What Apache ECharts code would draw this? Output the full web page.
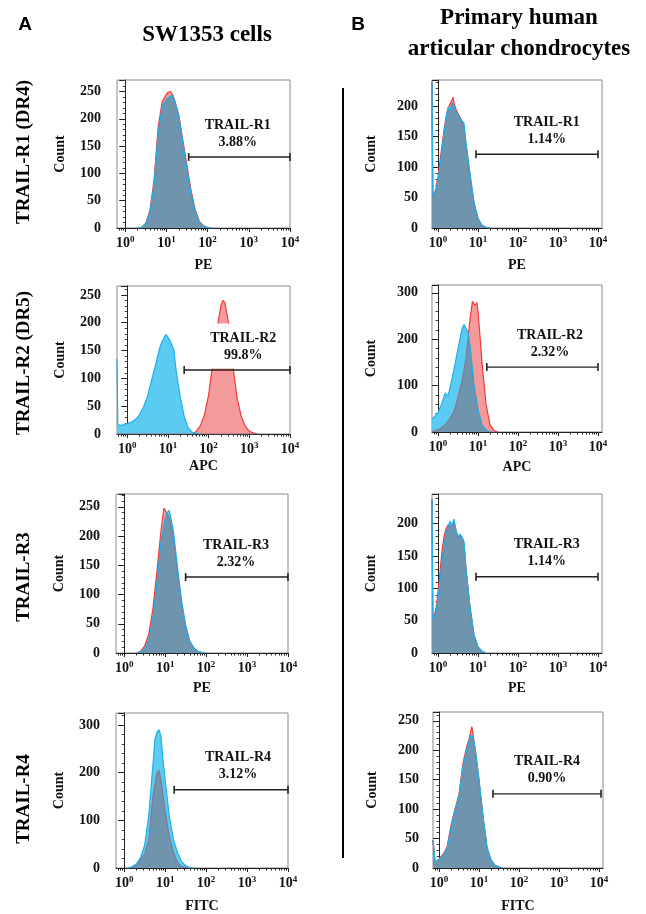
<!DOCTYPE html>
<html><head><meta charset="utf-8">
<script src="https://cdn.jsdelivr.net/npm/echarts@6/dist/echarts.min.js"></script>
<style>html,body{margin:0;padding:0;background:#fff}#c{width:646px;height:914px}</style>
</head><body><div id="c"></div>
<script>
// ---------------- DATA ----------------
// x values are log10(fluorescence intensity); y values are event counts
const receptorNames = ['TRAIL-R1','TRAIL-R2','TRAIL-R3','TRAIL-R4','TRAIL-R1','TRAIL-R2','TRAIL-R3','TRAIL-R4'];
const gatePercents = ['3.88%','99.8%','2.32%','3.12%','1.14%','2.32%','1.14%','0.90%'];
const channelNames = ['PE','APC','PE','FITC','PE','APC','PE','FITC'];
const rowLabels = ['TRAIL-R1 (DR4)','TRAIL-R2 (DR5)','TRAIL-R3','TRAIL-R4'];
const columnTitleA = ['SW1353 cells'];
const columnTitleB = ['Primary human','articular chondrocytes'];
const decadeTicks = [0,1,2,3,4];
const gateStart = [1.54,1.4,1.5,1.22,0.95,1.22,0.95,1.35];
const gateEnd = [4,4,4,4,4,4,4,4.05];
const gateLevel = [130,115,130,164,121,140,118,126];
const gateLabelX = [2.73,2.85,2.73,2.78,2.72,2.8,2.72,2.7];
const yMax = [271,266,272,325,243,317,246,265];
const yStep = [50,50,50,100,50,100,50,50];
const xMin = [-0.2,-0.25,-0.2,-0.2,-0.15,-0.15,-0.15,-0.15];
const xMax = [4,4,4,4,4.1,4.1,4.1,4.1];

const redA1 = [[0.3,0],[0.4,1],[0.5,9],[0.6,32],[0.7,88],[0.8,185],[0.9,232],[1.0,245],[1.05,249],[1.1,250],[1.15,244],[1.2,234],[1.3,207],[1.4,160],[1.5,114],[1.6,68],[1.7,33],[1.8,12],[1.9,4],[2.0,1],[2.1,0]];
const blueA1 = [[0.3,0],[0.4,1],[0.5,8],[0.6,28],[0.7,80],[0.8,175],[0.9,222],[1.0,236],[1.1,241],[1.15,243],[1.2,232],[1.3,205],[1.4,155],[1.5,107],[1.6,62],[1.7,30],[1.8,10],[1.9,3],[2.0,1],[2.1,0]];

const redA2 = [[1.6,0],[1.7,5],[1.8,15],[1.9,35],[2.0,70],[2.1,125],[2.2,185],[2.3,230],[2.35,240],[2.4,236],[2.5,195],[2.6,120],[2.7,65],[2.8,32],[2.9,14],[3.0,5],[3.1,2],[3.2,0]];
const blueA2 = [[-0.25,135],[-0.23,16],[-0.2,15],[-0.1,16],[0,19],[0.1,21],[0.2,26],[0.3,34],[0.4,48],[0.5,68],[0.6,97],[0.7,125],[0.8,155],[0.85,165],[0.9,172],[0.95,179],[1.0,174],[1.05,168],[1.1,160],[1.15,150],[1.2,115],[1.3,68],[1.4,32],[1.5,11],[1.6,3],[1.7,1],[1.8,0]];

const redA3 = [[0.3,0],[0.4,3],[0.5,12],[0.6,32],[0.7,75],[0.8,140],[0.9,210],[0.97,248],[1.0,245],[1.1,232],[1.2,200],[1.3,140],[1.4,85],[1.5,44],[1.6,19],[1.7,8],[1.8,2],[1.9,0]];
const blueA3 = [[0.3,0],[0.4,2],[0.5,7],[0.6,22],[0.7,58],[0.8,118],[0.9,190],[1.0,228],[1.05,240],[1.1,244],[1.2,210],[1.3,148],[1.4,90],[1.5,48],[1.6,21],[1.7,9],[1.8,3],[1.9,1],[2.0,0]];

const redA4 = [[0.2,1],[0.3,5],[0.4,18],[0.5,30],[0.6,60],[0.7,150],[0.8,200],[0.85,205],[0.9,185],[1.0,120],[1.1,67],[1.2,35],[1.3,12],[1.4,4],[1.5,1],[1.6,0]];
const blueA4 = [[0.1,0],[0.2,3],[0.3,9],[0.4,22],[0.5,48],[0.6,110],[0.7,215],[0.75,270],[0.8,285],[0.85,290],[0.9,275],[0.95,225],[1.0,185],[1.1,110],[1.2,60],[1.3,33],[1.4,14],[1.5,5],[1.6,1],[1.7,0]];

const redB1 = [[-0.15,240],[-0.13,50],[-0.1,55],[-0.05,65],[0,85],[0.05,110],[0.1,135],[0.15,160],[0.2,182],[0.25,196],[0.3,195],[0.35,210],[0.38,215],[0.4,205],[0.45,195],[0.5,188],[0.55,182],[0.6,175],[0.65,165],[0.7,135],[0.8,85],[0.9,40],[1.0,14],[1.1,4],[1.2,1],[1.3,0]];
const blueB1 = [[-0.15,240],[-0.13,52],[-0.1,52],[-0.05,60],[0,78],[0.05,100],[0.1,128],[0.15,155],[0.2,178],[0.25,198],[0.3,192],[0.35,205],[0.4,200],[0.45,190],[0.5,185],[0.55,180],[0.6,178],[0.65,172],[0.7,140],[0.8,90],[0.9,42],[1.0,16],[1.1,5],[1.2,1],[1.3,0]];

const redB2 = [[-0.15,1],[0,5],[0.1,10],[0.2,18],[0.3,30],[0.4,45],[0.5,75],[0.6,110],[0.7,160],[0.8,243],[0.86,282],[0.92,273],[0.97,279],[1.0,260],[1.05,207],[1.1,150],[1.2,60],[1.3,16],[1.4,3],[1.5,0]];
const blueB2 = [[-0.15,27],[-0.1,32],[0,42],[0.1,62],[0.18,84],[0.25,78],[0.3,95],[0.4,135],[0.5,180],[0.6,222],[0.65,232],[0.7,230],[0.75,215],[0.8,185],[0.9,100],[1.0,48],[1.1,15],[1.2,4],[1.3,0]];

const redB3 = [[-0.15,238],[-0.13,52],[-0.05,68],[0,95],[0.05,125],[0.1,158],[0.15,180],[0.2,192],[0.25,198],[0.3,200],[0.35,196],[0.4,203],[0.45,188],[0.5,178],[0.55,182],[0.6,178],[0.65,170],[0.7,128],[0.8,70],[0.9,27],[1.0,9],[1.1,2],[1.2,0]];
const blueB3 = [[-0.15,238],[-0.13,52],[-0.05,62],[0,85],[0.05,109],[0.1,140],[0.15,165],[0.2,183],[0.25,195],[0.3,204],[0.35,198],[0.4,207],[0.45,190],[0.5,180],[0.55,184],[0.6,180],[0.65,172],[0.7,130],[0.8,72],[0.9,28],[1.0,10],[1.1,3],[1.2,0]];

const redB4 = [[-0.15,47],[-0.1,10],[-0.05,8],[0,15],[0.1,23],[0.2,35],[0.3,72],[0.4,100],[0.5,125],[0.6,178],[0.7,208],[0.75,218],[0.82,240],[0.85,228],[0.9,203],[1.0,148],[1.1,86],[1.2,34],[1.3,13],[1.4,4],[1.5,1],[1.6,0]];
const blueB4 = [[-0.15,47],[-0.1,10],[-0.05,7],[0,14],[0.1,21],[0.2,32],[0.3,68],[0.4,98],[0.5,122],[0.6,172],[0.7,203],[0.75,215],[0.8,226],[0.85,222],[0.9,205],[1.0,150],[1.1,88],[1.2,36],[1.3,14],[1.4,5],[1.5,2],[1.6,0]];

const redSets = [redA1,redA2,redA3,redA4,redB1,redB2,redB3,redB4];
const blueSets = [blueA1,blueA2,blueA3,blueA4,blueB1,blueB2,blueB3,blueB4];

// ---------------- LAYOUT / STYLE ----------------
const rects = [
  [117,80,173,148],[117,286,173,148],[116,494,172,159],[116,713,172,156],
  [432,80,170,148],[432,285,170,147],[432,494,170,159],[433,712,170,156]
];
const xNameGap = [30,25,28,31,30,28,28,31];
const yNameGap = [50,50,50,50,54,54,54,54];
const yLabelMargin = [16,16,16,16,14,14,14,14];
const serif = '"Liberation Serif","Times New Roman",serif';
const sans = '"Liberation Sans",Arial,sans-serif';
const C = {
  redLine:'#ef3b3b', redFill:'#f59a9a', blueFill:'#5ccbf2', blueLine:'#1fb0ea',
  overlap:'#6f94ad', overlapLine:'#8a6f8c', ink:'#111', frame:'#8c8c8c'
};

function interp(arr, x){
  if (x < arr[0][0] || x > arr[arr.length-1][0]) return 0;
  for (let i=0;i<arr.length-1;i++){
    const a=arr[i], b=arr[i+1];
    if (x>=a[0] && x<=b[0]) { return b[0]===a[0]?a[1]:a[1]+(b[1]-a[1])*(x-a[0])/(b[0]-a[0]); }
  }
  return arr[arr.length-1][1];
}
// region shared by both histograms (drawn darker, like the overlay in the figure)
function overlapOf(a,b){
  let xs = Array.from(new Set(a.map(p=>p[0]).concat(b.map(p=>p[0])))).sort((p,q)=>p-q);
  const out=[];
  for (let i=0;i<xs.length;i++){
    const x=xs[i];
    out.push([x, Math.min(interp(a,x),interp(b,x))]);
    if (i<xs.length-1){
      const x2=xs[i+1];
      const d1=interp(a,x)-interp(b,x), d2=interp(a,x2)-interp(b,x2);
      if (d1*d2<0){
        const t=d1/(d1-d2), xc=x+(x2-x)*t;
        out.push([xc, interp(a,xc)]);
      }
    }
  }
  return out;
}
function minorTicks(lo,hi){
  const r=[];
  for (let d=-1; d<=4; d++) for (let k=2;k<=9;k++){ const v=d+Math.log10(k); if(v>lo&&v<hi) r.push(v); }
  return r;
}

const grids=[], xAxes=[], yAxes=[], series=[];
for (let i=0;i<8;i++){
  const [l,t,w,h]=rects[i];
  grids.push({left:l,top:t,width:w,height:h,show:true,borderColor:C.frame,borderWidth:1,backgroundColor:'transparent'});
  xAxes.push({
    type:'value', gridIndex:i, min:xMin[i], max:xMax[i], position:'bottom',
    name:channelNames[i], nameLocation:'middle', nameGap:xNameGap[i],
    nameTextStyle:{fontFamily:serif,fontWeight:'bold',fontSize:14,color:C.ink},
    axisLine:{show:true,onZero:false,lineStyle:{color:'#222',width:1}},
    axisTick:{show:true,customValues:decadeTicks,length:4,lineStyle:{color:'#222'}},
    splitLine:{show:false},
    axisLabel:{customValues:decadeTicks,margin:7,
      formatter:v=>'{b|10}{s|'+Math.round(v)+'}',
      rich:{b:{fontFamily:serif,fontWeight:'bold',fontSize:14,color:C.ink,lineHeight:16},
            s:{fontFamily:serif,fontWeight:'bold',fontSize:9,color:C.ink,verticalAlign:'top',lineHeight:16}}}
  });
  xAxes.push({
    type:'value', gridIndex:i, min:xMin[i], max:xMax[i], position:'bottom',
    axisLine:{show:false}, axisLabel:{show:false}, splitLine:{show:false},
    axisTick:{show:true,customValues:minorTicks(xMin[i],xMax[i]),length:2.5,lineStyle:{color:'#222'}}
  });
  yAxes.push({
    type:'value', gridIndex:i, min:0, max:yMax[i], interval:yStep[i],
    name:'Count', nameLocation:'middle', nameGap:yNameGap[i],
    nameTextStyle:{fontFamily:serif,fontWeight:'bold',fontSize:14,color:C.ink},
    axisLine:{show:true,lineStyle:{color:'#222',width:1}},
    axisTick:{show:true,length:6,lineStyle:{color:'#222'}},
    minorTick:{show:true,splitNumber:5,length:2.5,lineStyle:{color:'#444'}},
    splitLine:{show:false},
    axisLabel:{margin:yLabelMargin[i],fontFamily:serif,fontWeight:'bold',fontSize:14,color:C.ink,
      formatter:v=>(v%yStep[i]===0?String(v):''), showMaxLabel:true}
  });
  const xi=2*i;
  const red=redSets[i], blue=blueSets[i];
  series.push({type:'line',xAxisIndex:xi,yAxisIndex:i,data:red,showSymbol:false,z:2,
    lineStyle:{color:C.redLine,width:1.2},areaStyle:{color:C.redFill,opacity:1}});
  series.push({type:'line',xAxisIndex:xi,yAxisIndex:i,data:blue,showSymbol:false,z:3,
    lineStyle:{width:0},areaStyle:{color:C.blueFill,opacity:1}});
  series.push({type:'line',xAxisIndex:xi,yAxisIndex:i,data:overlapOf(red,blue),showSymbol:false,z:4,
    lineStyle:{color:C.overlapLine,width:1},areaStyle:{color:C.overlap,opacity:1}});
  series.push({type:'line',xAxisIndex:xi,yAxisIndex:i,data:blue,showSymbol:false,z:5,
    lineStyle:{color:C.blueLine,width:1.2}});
  series.push({type:'line',xAxisIndex:xi,yAxisIndex:i,data:[[gateStart[i],gateLevel[i]],[gateEnd[i],gateLevel[i]]],
    symbol:'rect',symbolSize:[1.6,8],showSymbol:true,z:6,clip:false,
    itemStyle:{color:'#222'},lineStyle:{color:'#222',width:1.4}});
  series.push({type:'scatter',xAxisIndex:xi,yAxisIndex:i,z:7,symbolSize:1,
    itemStyle:{color:'rgba(0,0,0,0)',opacity:1},
    data:[{value:[gateLabelX[i],gateLevel[i]],name:receptorNames[i]}],
    label:{show:true,position:'top',distance:1,formatter:()=>receptorNames[i]+'\n'+gatePercents[i],
      fontFamily:serif,fontWeight:'bold',fontSize:14,lineHeight:17,color:'#111',opacity:1,align:'center',
      backgroundColor:'#fff',padding:[6,5,5,5]}});
}

const rowCenters=[152,363,577,799];
const graphic=[
  {type:'text',x:25,y:25,style:{text:'A',fontFamily:sans,fontWeight:'bold',fontSize:19,fill:'#000',align:'center',verticalAlign:'middle'}},
  {type:'text',x:358,y:25,style:{text:'B',fontFamily:sans,fontWeight:'bold',fontSize:19,fill:'#000',align:'center',verticalAlign:'middle'}},
  {type:'text',x:207,y:35,style:{text:columnTitleA[0],fontFamily:serif,fontWeight:'bold',fontSize:23,fill:'#000',align:'center',verticalAlign:'middle'}},
  {type:'text',x:519,y:18,style:{text:columnTitleB[0],fontFamily:serif,fontWeight:'bold',fontSize:23,fill:'#000',align:'center',verticalAlign:'middle'}},
  {type:'text',x:519,y:49,style:{text:columnTitleB[1],fontFamily:serif,fontWeight:'bold',fontSize:23,fill:'#000',align:'center',verticalAlign:'middle'}},
  {type:'line',shape:{x1:343,y1:88,x2:343,y2:858},style:{stroke:'#000',lineWidth:2}}
];
rowLabels.forEach((t,k)=>graphic.push({type:'text',x:24,y:rowCenters[k],rotation:Math.PI/2,
  style:{text:t,fontFamily:serif,fontWeight:'bold',fontSize:19,fill:'#000',align:'center',verticalAlign:'middle'}}));

const chart=echarts.init(document.getElementById('c'),null,{renderer:'canvas'});
chart.setOption({animation:false,backgroundColor:'#fff',grid:grids,xAxis:xAxes,yAxis:yAxes,series:series,graphic:graphic});
</script></body></html>
